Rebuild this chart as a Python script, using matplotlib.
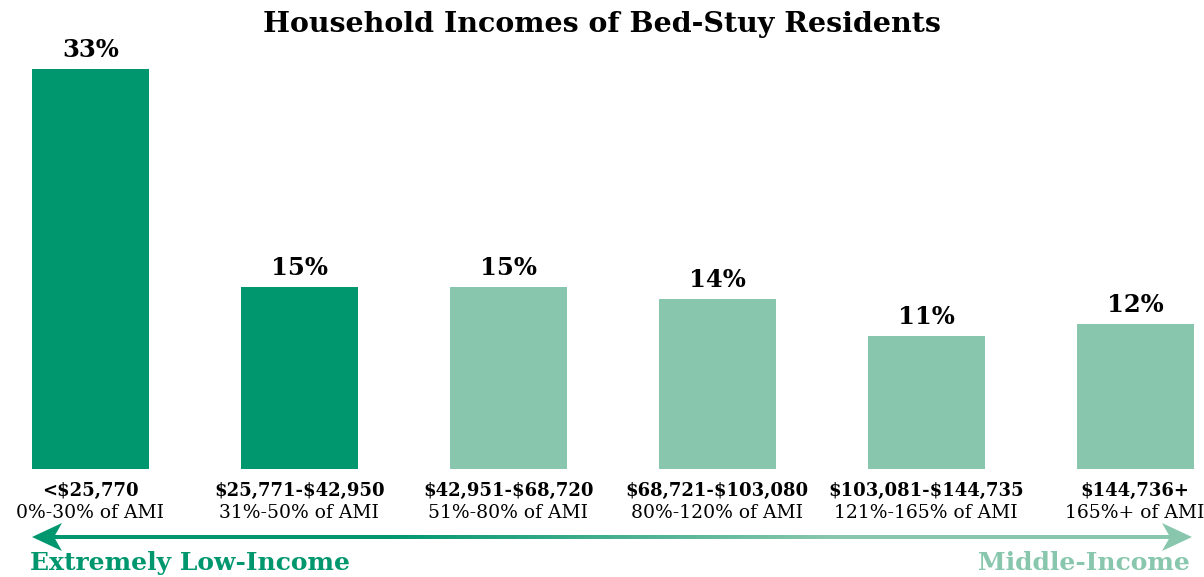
import matplotlib
matplotlib.use("Agg")
import matplotlib.pyplot as plt
import numpy as np
from matplotlib.colors import LinearSegmentedColormap

# data
brackets = ["<$25,770", "$25,771-$42,950", "$42,951-$68,720",
            "$68,721-$103,080", "$103,081-$144,735", "$144,736+"]
ami = ["0%-30% of AMI", "31%-50% of AMI", "51%-80% of AMI",
       "80%-120% of AMI", "121%-165% of AMI", "165%+ of AMI"]
shares = [33, 15, 15, 14, 11, 12]
low_income = [True, True, False, False, False, False]

DARK = "#00976F"
LIGHT = "#88C7AE"
FONT = "DejaVu Serif"
plt.rcParams["text.parse_math"] = False

W, H = 1204, 577
fig = plt.figure(figsize=(W / 100, H / 100), dpi=100)
ax = fig.add_axes([0, (H - 469) / H, 1, 400 / H])

x = np.arange(len(shares))
colors = [DARK if lo else LIGHT for lo in low_income]
ax.bar(x, shares, width=0.56, color=colors)
ax.set_xlim(-0.433, 5.33)
ax.set_ylim(0, 33)
ax.axis("off")

for xi, v in zip(x, shares):
    ax.annotate(f"{v}%", (xi, v), xytext=(0, 5), textcoords="offset points",
                ha="center", va="bottom", fontsize=17.5, fontweight="bold",
                family=FONT)

for xi, b, a in zip(x, brackets, ami):
    ax.annotate(b, (xi, 0), xytext=(0, -16), textcoords="offset points",
                ha="center", va="center", fontsize=13, fontweight="bold",
                family=FONT)
    ax.annotate(a, (xi, 0), xytext=(0, -32), textcoords="offset points",
                ha="center", va="center", fontsize=13.5, family=FONT)

fig.text(0.5, 1 - 25 / H, "Household Incomes of Bed-Stuy Residents",
         ha="center", va="center", fontsize=20.5, fontweight="bold", family=FONT)

# gradient arrow along the bottom
ov = fig.add_axes([0, 0, 1, 1])
ov.set_xlim(0, W)
ov.set_ylim(H, 0)
ov.axis("off")
cmap = LinearSegmentedColormap.from_list("g", [(0, DARK), (0.3, DARK), (0.7, LIGHT), (1, LIGHT)])
grad = np.linspace(0, 1, 512).reshape(1, -1)
ov.imshow(grad, cmap=cmap, extent=(50, 1170, 539, 535), aspect="auto",
          interpolation="bilinear")
ov.set_xlim(0, W)
ov.set_ylim(H, 0)
ov.add_patch(plt.Polygon([(32, 537), (62, 523), (54, 537), (62, 551)], color=DARK, lw=0))
ov.add_patch(plt.Polygon([(1192, 537), (1162, 523), (1170, 537), (1162, 551)], color=LIGHT, lw=0))
ov.text(30, 563, "Extremely Low-Income", ha="left", va="center", color=DARK,
        fontsize=18, fontweight="bold", family=FONT)
ov.text(1190, 563, "Middle-Income", ha="right", va="center", color=LIGHT,
        fontsize=18, fontweight="bold", family=FONT)

fig.savefig("out.png", dpi=100)
